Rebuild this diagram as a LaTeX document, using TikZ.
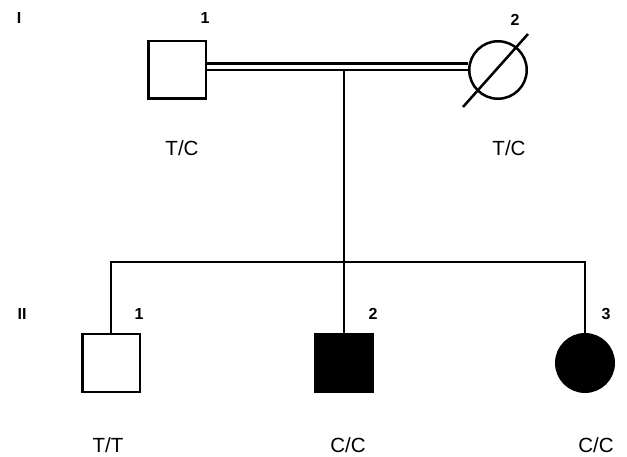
\documentclass[tikz,border=0pt]{standalone}
\usepackage{fontspec}
\setmainfont{Liberation Sans}
\usetikzlibrary{calc}
\begin{document}
\begin{tikzpicture}[x=1pt,y=-1pt,
  male/.style={draw=black,line width=2.5pt,rectangle,inner sep=0pt,minimum width=57.5pt,minimum height=57.5pt},
  female/.style={draw=black,line width=2.5pt,circle,inner sep=0pt,minimum size=57.5pt},
  affected/.style={fill=black},
  link/.style={line width=2.5pt},
  geno/.style={font=\fontsize{20.5}{20.5}\selectfont,inner sep=0pt},
  num/.style={font=\fontsize{16}{16}\selectfont\bfseries,inner sep=0pt}]
\useasboundingbox (0,0) rectangle (627,457);
% generation I
\node[male] (i1) at (177,70) {};
\node[female] (i2) at (498,70) {};
\draw[link,double,double distance=4.2pt] (i1.east |- 0,66.7) -- (i2.west |- 0,66.7);
\draw[line width=2.5pt] ($(i2.center)+(-35,37)$) -- ($(i2.center)+(30,-36)$);
% generation II
\node[male] (ii1) at (111,363) {};
\node[male,affected] (ii2) at (344,363) {};
\node[female,affected] (ii3) at (585,363) {};
\coordinate (mid) at (344,70);
\coordinate (sibL) at (111,262);
\coordinate (sibR) at (585,262);
\draw[link] (mid) -- (ii2.north);
\draw[link,line cap=rect] (ii1.north) -- (sibL) -- (sibR) -- (ii3.north);
% labels
\node[num] (gI) at (19,18) {I};
\node[num] (n11) at (205,18) {1};
\node[num] (n12) at (515,20) {2};
\node[geno] (g11) at (182,148) {T/C};
\node[geno] (g12) at (509,148) {T/C};
\node[num] (gII) at (22,314) {II};
\node[num] (n21) at (139,314) {1};
\node[num] (n22) at (373,314) {2};
\node[num] (n23) at (606,314) {3};
\node[geno] (g21) at (108,445) {T/T};
\node[geno] (g22) at (348,445) {C/C};
\node[geno] (g23) at (596,445) {C/C};
\end{tikzpicture}
\end{document}
